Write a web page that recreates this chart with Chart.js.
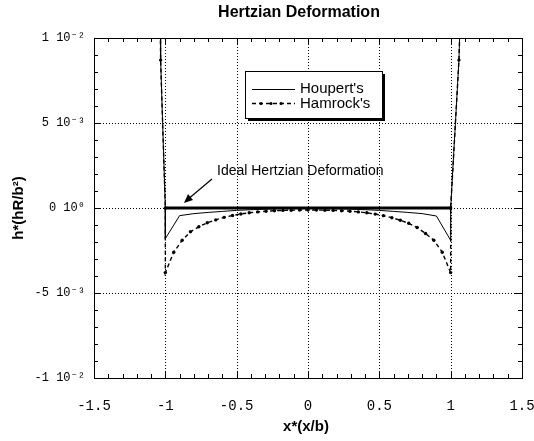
<!DOCTYPE html>
<html>
<head>
<meta charset="utf-8">
<script src="https://cdn.jsdelivr.net/npm/chart.js@4.4.0/dist/chart.umd.min.js"></script>
<style>
  html, body { margin: 0; padding: 0; background: #fff; }
  #wrap { width: 534px; height: 441px; }
</style>
</head>
<body>
<div id="wrap"><canvas id="hertzChart" width="534" height="441"></canvas></div>
<script>
// Hamrock's curve (dashed with dots)
var hamrockX = [-1.036, -1.033, -1, -1, -0.941, -0.882, -0.824, -0.765, -0.706, -0.647, -0.588, -0.529,
  -0.471, -0.412, -0.353, -0.294, -0.235, -0.176, -0.118, -0.059, 0, 0.059, 0.118, 0.176, 0.235, 0.294,
  0.353, 0.412, 0.471, 0.529, 0.588, 0.647, 0.706, 0.765, 0.824, 0.882, 0.941, 1, 1, 1.058, 1.068];
var hamrockY = [0.0115, 0.0087, 0, -0.0038, -0.0026, -0.0019, -0.0014, -0.0011, -0.00087, -0.0007, -0.00055, -0.00044,
  -0.00035, -0.00028, -0.00023, -0.00019, -0.00016, -0.00014, -0.00013, -0.00012, -0.00012, -0.00012, -0.00013, -0.00014, -0.00016, -0.00019,
  -0.00023, -0.00028, -0.00036, -0.00045, -0.00057, -0.00072, -0.0009, -0.00115, -0.0015, -0.0019, -0.0026, -0.0038, 0, 0.0087, 0.0115];

// Houpert's curve (thin solid)
var houpertX = [-1.036, -1.033, -1, -1, -0.9, -0.8, -0.7, -0.6, -0.5, -0.4, -0.3, -0.2, -0.1, 0,
  0.1, 0.2, 0.3, 0.4, 0.5, 0.6, 0.7, 0.8, 0.9, 1, 1, 1.058, 1.068];
var houpertY = [0.0115, 0.0087, 0, -0.0018, -0.00045, -0.00033, -0.00026, -0.0002, -0.00014, -0.0001, -0.00007, -0.00004, -0.00002, 0,
  -0.00002, -0.00004, -0.00007, -0.0001, -0.00014, -0.0002, -0.00026, -0.00033, -0.00047, -0.0019, 0, 0.0087, 0.0115];

// ideal Hertzian deformation (thick flat line)
var idealX = [-1, 1];
var idealY = [0, 0];

var xTickLabels = ['-1.5', '-1', '-0.5', '0', '0.5', '1', '1.5'];
var yTickLabels = ['-1 10\u207B\u00B2', '-5 10\u207B\u00B3', '0 10\u2070', '5 10\u207B\u00B3', '1 10\u207B\u00B2'];

function pts(xs, ys) {
  return xs.map(function (x, i) { return { x: x, y: ys[i] }; });
}

var monoFont = "'Liberation Mono', 'DejaVu Sans Mono', monospace";
var sansFont = "'Liberation Sans', Arial, sans-serif";

// grid, frame, inside ticks, legend box and the annotation arrow
var framePlugin = {
  id: 'frame',
  beforeDatasetsDraw: function (chart) {
    var ctx = chart.ctx, a = chart.chartArea;
    var xs = chart.scales.x, ys = chart.scales.y;
    ctx.save();
    ctx.strokeStyle = '#000';
    ctx.lineWidth = 1;
    ctx.setLineDash([1, 2]);
    xs.ticks.forEach(function (t) {
      var px = Math.round(xs.getPixelForValue(t.value)) + 0.5;
      ctx.beginPath(); ctx.moveTo(px, a.top); ctx.lineTo(px, a.bottom); ctx.stroke();
    });
    ys.ticks.forEach(function (t) {
      var py = Math.round(ys.getPixelForValue(t.value)) + 0.5;
      ctx.beginPath(); ctx.moveTo(a.left, py); ctx.lineTo(a.right, py); ctx.stroke();
    });
    ctx.restore();
  },
  afterDatasetsDraw: function (chart) {
    var ctx = chart.ctx, a = chart.chartArea;
    var xs = chart.scales.x, ys = chart.scales.y;
    ctx.save();
    ctx.strokeStyle = '#000';
    ctx.lineWidth = 1;
    ctx.setLineDash([]);
    ctx.strokeRect(Math.round(a.left) + 0.5, Math.round(a.top) + 0.5,
      Math.round(a.right - a.left), Math.round(a.bottom - a.top));

    // minor ticks every 0.1 on x, every 0.001 on y
    var i, px, py, len;
    for (i = -15; i <= 15; i++) {
      px = Math.round(xs.getPixelForValue(i / 10)) + 0.5;
      len = (i % 5 === 0) ? 7 : 4;
      ctx.beginPath();
      ctx.moveTo(px, a.bottom); ctx.lineTo(px, a.bottom - len);
      ctx.moveTo(px, a.top); ctx.lineTo(px, a.top + len);
      ctx.stroke();
    }
    for (i = -10; i <= 10; i++) {
      py = Math.round(ys.getPixelForValue(i / 1000)) + 0.5;
      len = (i % 5 === 0) ? 7 : 4;
      ctx.beginPath();
      ctx.moveTo(a.left, py); ctx.lineTo(a.left + len, py);
      ctx.moveTo(a.right, py); ctx.lineTo(a.right - len, py);
      ctx.stroke();
    }

    // legend box with drop shadow
    var lx = 245, ly = 71, lw = 137, lh = 47;
    ctx.fillStyle = '#000';
    ctx.fillRect(lx + 3, ly + 3, lw, lh);
    ctx.fillStyle = '#fff';
    ctx.fillRect(lx, ly, lw, lh);
    ctx.strokeRect(lx + 0.5, ly + 0.5, lw, lh);
    ctx.fillStyle = '#000';

    ctx.beginPath(); ctx.moveTo(252, 89.5); ctx.lineTo(295, 89.5); ctx.stroke();
    ctx.setLineDash([4, 3]);
    ctx.lineWidth = 1.3;
    ctx.beginPath(); ctx.moveTo(252, 103.5); ctx.lineTo(295, 103.5); ctx.stroke();
    ctx.setLineDash([]);
    [261, 271, 281].forEach(function (dx) {
      ctx.beginPath(); ctx.arc(dx, 103.5, 1.5, 0, Math.PI * 2); ctx.fill();
    });
    ctx.font = '15px ' + sansFont;
    ctx.textAlign = 'left';
    ctx.textBaseline = 'middle';
    ctx.fillText("Houpert's", 300, 89);
    ctx.fillText("Hamrock's", 300, 104);

    // annotation and arrow
    ctx.font = '14px ' + sansFont;
    ctx.fillText('Ideal Hertzian Deformation', 217, 171);
    ctx.lineWidth = 1.2;
    ctx.beginPath(); ctx.moveTo(212, 179); ctx.lineTo(187, 200); ctx.stroke();
    ctx.beginPath();
    ctx.moveTo(184, 203); ctx.lineTo(188, 194); ctx.lineTo(193, 200); ctx.closePath();
    ctx.fill();
    ctx.restore();
  },
  afterDraw: function (chart) {
    var ctx = chart.ctx, a = chart.chartArea;
    var cx = (a.left + a.right) / 2, cy = (a.top + a.bottom) / 2;
    ctx.save();
    ctx.fillStyle = '#000';
    ctx.textAlign = 'center';
    ctx.textBaseline = 'middle';
    ctx.font = 'bold 16px ' + sansFont;
    ctx.fillText('Hertzian Deformation', 299, 13);
    ctx.font = 'bold 15px ' + sansFont;
    ctx.fillText('x*(x/b)', cx - 2, 427);
    ctx.translate(19, cy);
    ctx.rotate(-Math.PI / 2);
    ctx.fillText('h*(hR/b\u00B2)', 0, 0);
    ctx.restore();
  }
};

var ctx = document.getElementById('hertzChart').getContext('2d');
var hertzChart = new Chart(ctx, {
  type: 'line',
  data: {
    datasets: [{
      label: "Houpert's",
      data: pts(houpertX, houpertY),
      borderColor: '#000',
      borderWidth: 1,
      pointRadius: 0,
      tension: 0
    }, {
      label: "Hamrock's",
      data: pts(hamrockX, hamrockY),
      borderColor: '#000',
      borderWidth: 1.4,
      borderDash: [4, 3],
      pointRadius: 1.7,
      pointBackgroundColor: '#000',
      pointBorderWidth: 0,
      tension: 0
    }, {
      label: 'Ideal Hertzian Deformation',
      data: pts(idealX, idealY),
      borderColor: '#000',
      borderWidth: 3,
      pointRadius: 0,
      tension: 0
    }]
  },
  options: {
    responsive: false,
    animation: false,
    layout: { padding: { left: 0, top: 38, right: 12, bottom: 0 } },
    plugins: {
      legend: { display: false },
      title: { display: false },
      tooltip: { enabled: false }
    },
    scales: {
      x: {
        type: 'linear',
        min: -1.5,
        max: 1.5,
        grid: { display: false, drawTicks: false },
        border: { display: false },
        afterFit: function (s) { s.height = 63; s.paddingLeft = 0; s.paddingRight = 0; },
        ticks: {
          stepSize: 0.5,
          padding: 20,
          color: '#000',
          font: { family: monoFont, size: 14 },
          callback: function (v, i) { return xTickLabels[i]; }
        }
      },
      y: {
        type: 'linear',
        min: -0.01,
        max: 0.01,
        grid: { display: false, drawTicks: false },
        border: { display: false },
        afterFit: function (s) { s.width = 94; s.paddingTop = 0; s.paddingBottom = 0; },
        ticks: {
          stepSize: 0.005,
          padding: 9,
          color: '#000',
          font: { family: monoFont, size: 12 },
          callback: function (v, i) { return yTickLabels[i]; }
        }
      }
    }
  },
  plugins: [framePlugin]
});
</script>
</body>
</html>
